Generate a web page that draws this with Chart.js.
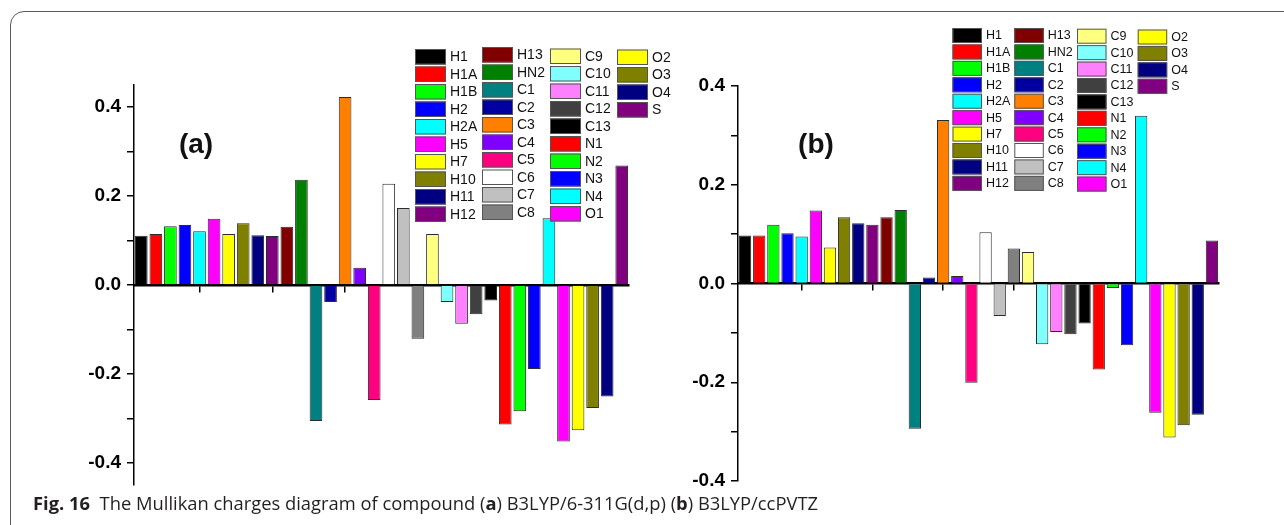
<!DOCTYPE html>
<html>
<head>
<meta charset="utf-8">
<script src="https://cdn.jsdelivr.net/npm/chart.js@4.4.1/dist/chart.umd.min.js"></script>
<style>
  html, body { margin: 0; padding: 0; background: #fff; }
  #page { position: relative; width: 1284px; height: 525px; overflow: hidden; background: #fff; }
  #frame { position: absolute; left: 10px; top: 11px; width: 1400px; height: 700px;
           border: 1.5px solid #5a5a5a; border-radius: 14px; box-sizing: border-box; }
  #wrapA { position: absolute; left: 0; top: 0; width: 680px; height: 525px; }
  #wrapB { position: absolute; left: 680px; top: 0; width: 604px; height: 525px; }
  #caption { position: absolute; left: 33px; top: 490px; font-family: "Open Sans", sans-serif;
             font-size: 18.5px; color: #231f20; white-space: nowrap; transform-origin: 0 0; }
</style>
</head>
<body>
<div id="page">
  <div id="frame"></div>
  <div id="wrapA"><canvas id="chartA" width="680" height="525"></canvas></div>
  <div id="wrapB"><canvas id="chartB" width="604" height="525"></canvas></div>
  <div id="caption"><b>Fig. 16</b>&nbsp; The Mullikan charges diagram of compound (<b>a</b>) B3LYP/6-311G(d,p) (<b>b</b>) B3LYP/ccPVTZ</div>
</div>
<script>
// Atoms in plotting order
const atoms = ['H1', 'H1A', 'H1B', 'H2', 'H2A', 'H5', 'H7', 'H10', 'H11', 'H12',
               'H13', 'HN2', 'C1', 'C2', 'C3', 'C4', 'C5', 'C6', 'C7', 'C8',
               'C9', 'C10', 'C11', 'C12', 'C13', 'N1', 'N2', 'N3', 'N4', 'O1',
               'O2', 'O3', 'O4', 'S'];

// Mulliken charges, B3LYP/6-311G(d,p)
const chargesA = [0.111, 0.115, 0.132, 0.135, 0.121, 0.149, 0.115, 0.139, 0.112, 0.110,
                  0.131, 0.237, -0.306, -0.038, 0.423, 0.039, -0.259, 0.228, 0.173, -0.121,
                  0.115, -0.038, -0.087, -0.066, -0.035, -0.314, -0.284, -0.189, 0.150, -0.352,
                  -0.327, -0.277, -0.251, 0.269];

// Mulliken charges, B3LYP/ccPVTZ
const chargesB = [0.097, 0.097, 0.119, 0.102, 0.095, 0.148, 0.073, 0.134, 0.122, 0.119,
                  0.134, 0.149, -0.294, 0.012, 0.331, 0.015, -0.201, 0.104, -0.066, 0.071,
                  0.064, -0.123, -0.098, -0.103, -0.081, -0.174, -0.009, -0.125, 0.340, -0.262,
                  -0.312, -0.287, -0.266, 0.087];

// One fill colour per atom
const atomColors = ['#000000', '#FF0000', '#00FF00', '#0000FF', '#00FFFF', '#FF00FF', '#FFFF00', '#808000', '#000080', '#800080',
                    '#800000', '#008000', '#008080', '#0000A0', '#FF8000', '#8000FF', '#FF0080', '#FFFFFF', '#C0C0C0', '#808080',
                    '#FFFF80', '#80FFFF', '#FF80FF', '#404040', '#000000', '#FF0000', '#00FF00', '#0000FF', '#00FFFF', '#FF00FF',
                    '#FFFF00', '#808000', '#000080', '#800080'];

// Tick positions on the charge axis
const yTickValues = [-0.4, -0.3, -0.2, -0.1, 0, 0.1, 0.2, 0.3, 0.4];

// Boxed legend in columns of ten plus the panel tag
const swatchLegend = {
  id: 'swatchLegend',
  afterDraw(chart, args, o) {
    const ctx = chart.ctx;
    const labels = chart.data.labels;
    const colors = chart.data.datasets[0].backgroundColor;
    ctx.save();
    ctx.font = o.fontSize + 'px "Liberation Sans", Arial, sans-serif';
    ctx.textBaseline = 'middle';
    ctx.textAlign = 'left';
    labels.forEach((name, i) => {
      const col = Math.floor(i / 10), row = i % 10;
      const x = o.colX[col], y = o.colY[col] + row * o.pitch;
      ctx.fillStyle = colors[i];
      ctx.fillRect(x, y, o.w, o.h);
      ctx.strokeStyle = '#555';
      ctx.lineWidth = 1;
      ctx.strokeRect(x + 0.5, y + 0.5, o.w - 1, o.h - 1);
      ctx.fillStyle = '#111';
      ctx.fillText(name, x + o.textDx, y + o.h / 2 + 0.5);
    });
    ctx.font = 'bold ' + o.tagSize + 'px "Liberation Sans", Arial, sans-serif';
    ctx.textAlign = 'center';
    ctx.fillStyle = '#111';
    ctx.fillText(o.tag, o.tagX, o.tagY);
    ctx.restore();
  }
};

function makeChart(canvasId, values, yMax, yAxisWidth, padding, legendOpts) {
  return new Chart(document.getElementById(canvasId), {
    type: 'bar',
    data: {
      labels: atoms,
      datasets: [{
        data: values,
        backgroundColor: atomColors,
        borderColor: '#2b2b2b',
        borderWidth: 1,
        barPercentage: 0.87,
        categoryPercentage: 1
      }]
    },
    options: {
      responsive: false,
      animation: false,
      devicePixelRatio: 1,
      layout: { padding },
      plugins: {
        legend: { display: false },
        tooltip: { enabled: false },
        swatchLegend: legendOpts
      },
      scales: {
        x: {
          position: { y: 0 },
          offset: true,
          grid: {
            offset: false,
            drawOnChartArea: false,
            drawTicks: true,
            tickLength: 6,
            lineWidth: 1.5,
            color: c => (c.index % 5 === 4 ? '#000' : 'rgba(0,0,0,0)')
          },
          border: { color: '#000', width: 2.5 },
          ticks: { display: false }
        },
        y: {
          min: -yMax,
          max: yMax,
          afterBuildTicks: s => { s.ticks = yTickValues.map(v => ({ value: v })); },
          afterFit: s => { s.width = yAxisWidth; },
          grid: { drawOnChartArea: false, tickLength: 7, color: '#000', lineWidth: 1.5 },
          border: { color: '#000', width: 1.5 },
          ticks: {
            padding: 6,
            color: '#000',
            font: { family: '"Liberation Sans", Arial, sans-serif', size: 19, weight: 'bold' },
            callback: v => (Math.round(v * 10) % 2 === 0 ? Number(v).toFixed(1) : '')
          }
        }
      }
    },
    plugins: [swatchLegend]
  });
}

makeChart('chartA', chargesA, 0.45, 134,
  { left: 0, top: 85, right: 51, bottom: 40 },
  { colX: [415, 482, 550, 617], colY: [49, 47, 48.5, 49.5], pitch: 17.5, w: 31, h: 15.5,
    textDx: 35, fontSize: 14, tag: '(a)', tagSize: 28, tagX: 196, tagY: 145 });

makeChart('chartB', chargesB, 0.4, 58,
  { left: 0, top: 86, right: 65, bottom: 44 },
  { colX: [272.5, 334.3, 397, 457.7], colY: [28, 28, 28.7, 29.5], pitch: 16.43, w: 29.5, h: 15,
    textDx: 33.5, fontSize: 12.5, tag: '(b)', tagSize: 28, tagX: 136, tagY: 145 });

// Fit the caption line to its column width
const cap = document.getElementById('caption');
const capW = cap.getBoundingClientRect().width;
cap.style.transform = 'scaleX(' + (785 / capW) + ')';
</script>
</body>
</html>
